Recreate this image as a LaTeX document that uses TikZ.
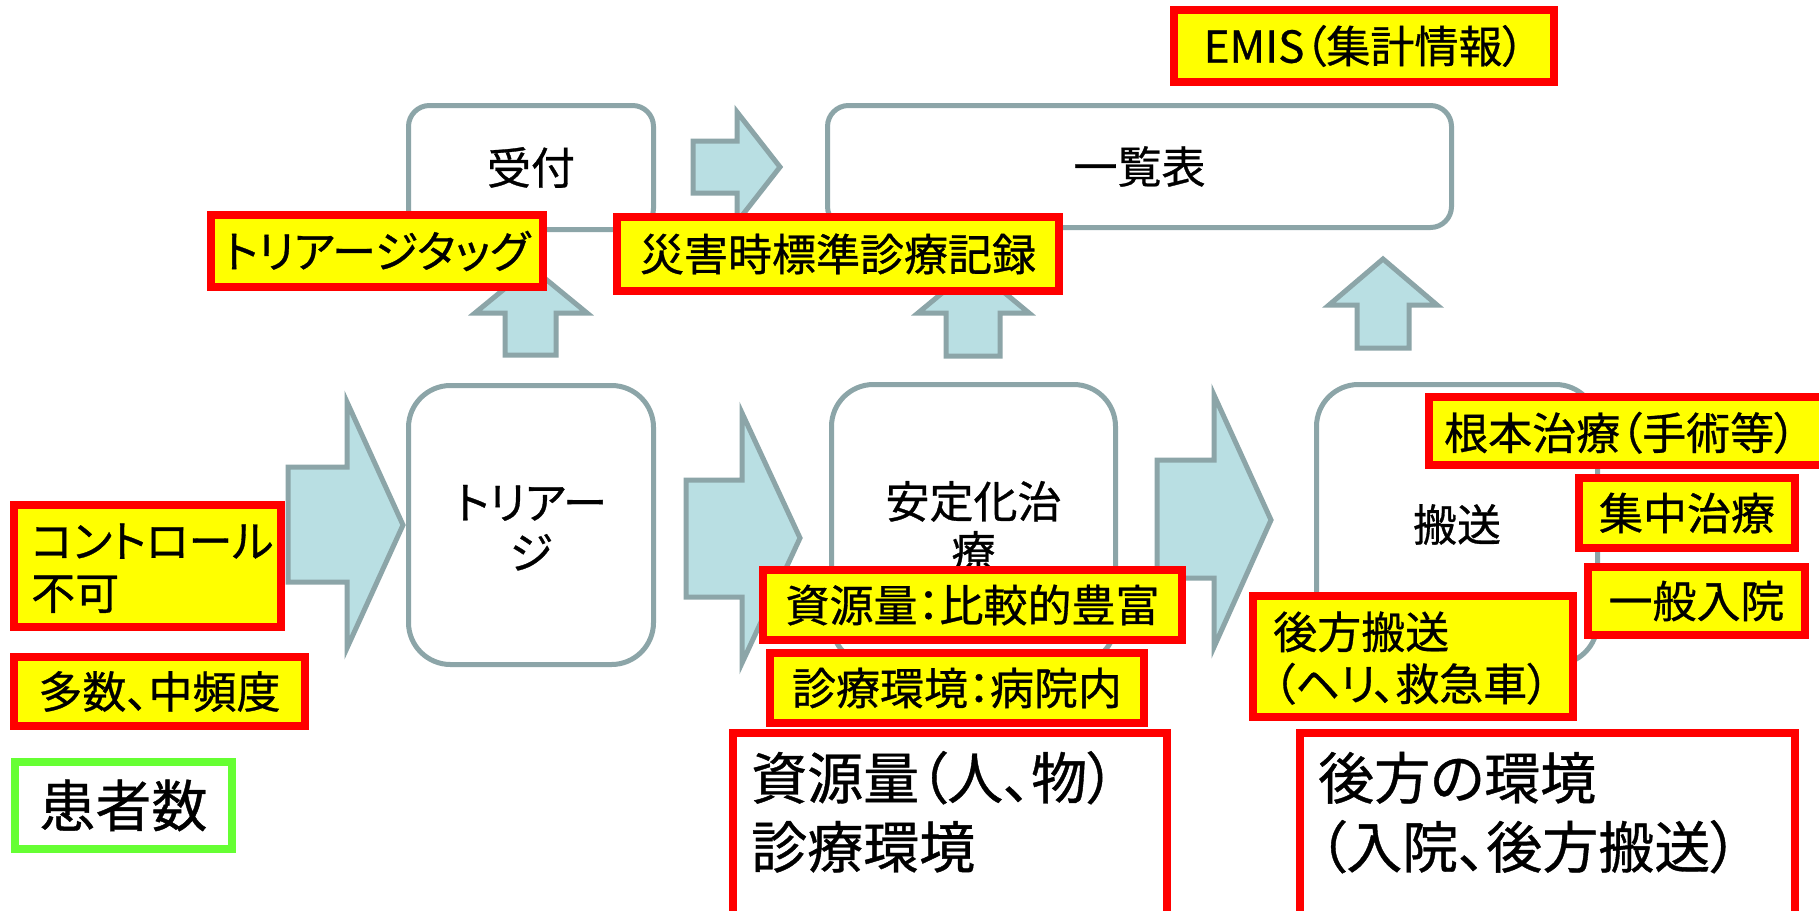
\documentclass[tikz,border=0pt]{standalone}
\usepackage{fontspec}
\setmainfont{Noto Sans CJK JP}[RawFeature=+palt, FakeBold=0.7]
\definecolor{grayc}{RGB}{140,165,168}
\definecolor{arrowc}{RGB}{185,223,227}
\definecolor{greenc}{RGB}{102,255,51}
\definecolor{redc}{RGB}{255,0,0}
\definecolor{yellowc}{RGB}{255,255,0}
\tikzset{
  fa/.style={font=\fontsize{44}{52}\selectfont},
  fb/.style={font=\fontsize{56}{69}\selectfont},
  gbox/.style={draw=grayc, fill=white, line width=5pt, inner sep=0pt, fa},
  lbl/.style={draw=redc, fill=yellowc, line width=8pt, inner sep=0pt, fa},
  wlbl/.style={draw=redc, fill=white, line width=8pt, inner sep=0pt},
  txt/.style={inner sep=0pt, fa},
  blk/.style={draw=grayc, fill=arrowc, line width=5pt, line join=miter},
}
\begin{document}
\begin{tikzpicture}[x=1pt,y=-1pt]
\useasboundingbox (0,0) rectangle (1819,910);
\fill[white] (0,0) rectangle (1819,910);
\clip (0,0) rectangle (1819,910);

% process boxes
\node[gbox, rounded corners=21pt, minimum width=245pt, minimum height=124pt] (uke) at (531,167.5) {受付};
\node[gbox, rounded corners=21pt, minimum width=624pt, minimum height=122pt] (ichi) at (1139.5,166.5) {一覧表};
\node[gbox, rounded corners=42pt, minimum width=245pt, minimum height=279pt] (tri) at (531,525) {};
\node[txt, anchor=base] (tri1) at (531,519) {トリアー};
\node[txt, anchor=base] (tri2) at (531,569) {ジ};
\node[gbox, rounded corners=42pt, minimum width=284pt, minimum height=280pt] (ant) at (973.5,524.5) {};
\node[txt, anchor=base] (ant1) at (973.5,518) {安定化治};
\node[txt, anchor=base] (ant2) at (973.5,568) {療};
\node[gbox, rounded corners=42pt, minimum width=281pt, minimum height=280pt] (han) at (1457,524.5) {搬送};

% block arrows
\draw[blk] (693,141) -- (737,141) -- (737,112) -- (780,167) -- (737,222) -- (737,193) -- (693,193) -- cycle;
\draw[blk] (505,355) -- (505,313) -- (475,313) -- (531,267) -- (587,313) -- (556,313) -- (556,355) -- cycle;
\draw[blk] (946,356) -- (946,313) -- (918,313) -- (973.5,267) -- (1029,313) -- (1000,313) -- (1000,356) -- cycle;
\draw[blk] (1357,348) -- (1357,305) -- (1329,305) -- (1383,259) -- (1437,305) -- (1409,305) -- (1409,348) -- cycle;
\draw[blk] (288,467) -- (347,467) -- (347,402) -- (403,525) -- (347,648) -- (347,582) -- (288,582) -- cycle;
\draw[blk] (686,480) -- (742,480) -- (742,413) -- (800,538) -- (742,663) -- (742,597) -- (686,597) -- cycle;
\draw[blk] (1157,460) -- (1214,460) -- (1214,395) -- (1271,520) -- (1214,647) -- (1214,578) -- (1157,578) -- cycle;

% labels
\node[lbl, minimum width=380pt, minimum height=72pt] (emis) at (1364,46) {EMIS（集計情報）};
\node[lbl, minimum width=332pt, minimum height=72pt] (tag) at (377,251) {トリアージタッグ};
\node[lbl, minimum width=442pt, minimum height=74pt] (kiroku) at (838,254) {災害時標準診療記録};

\node[lbl, minimum width=267pt, minimum height=122pt] (ctl) at (147.5,566) {};
\node[txt, anchor=base west] (ctl1) at (31,557.5) {コントロール};
\node[txt, anchor=base west] (ctl2) at (31,609.5) {不可};
\node[lbl, minimum width=291pt, minimum height=69pt] (tasu) at (159.5,691.5) {多数、中頻度};
\node[draw=greenc, fill=white, line width=8pt, inner sep=0pt, fb, minimum width=217pt, minimum height=87pt] (kanja) at (123.5,805.5) {患者数};

\node[lbl, minimum width=419pt, minimum height=70pt] (shigen) at (972.5,605) {資源量：比較的豊富};
\node[lbl, minimum width=374pt, minimum height=70pt] (kankyo) at (957,688) {診療環境：病院内};
\node[wlbl, minimum width=434pt, minimum height=223pt] (res) at (950,844.5) {};
\node[txt, fb, anchor=base west] (res1) at (751,799) {資源量（人、物）};
\node[txt, fb, anchor=base west] (res2) at (751,868) {診療環境};

\node[lbl, minimum width=397pt, minimum height=68pt] (konpon) at (1627.5,431) {};
\node[txt, anchor=base west] (konpont) at (1444,449.5) {根本治療（手術等）};
\node[lbl, minimum width=216pt, minimum height=70pt] (shuchu) at (1687,513) {集中治療};
\node[lbl, minimum width=217pt, minimum height=68pt] (ippan) at (1696.5,601) {一般入院};
\node[lbl, minimum width=320pt, minimum height=121pt] (kohou) at (1413,656.5) {};
\node[txt, anchor=base west] (kohou1) at (1273,648.5) {後方搬送};
\node[txt, anchor=base west] (kohou2) at (1273,700.5) {（ヘリ、救急車）};
\node[wlbl, minimum width=495pt, minimum height=223pt] (env) at (1547.5,844.5) {};
\node[txt, fb, anchor=base west] (env1) at (1318,799) {後方の環境};
\node[txt, fb, anchor=base west] (env2) at (1318,868) {（入院、後方搬送）};
\end{tikzpicture}
\end{document}
